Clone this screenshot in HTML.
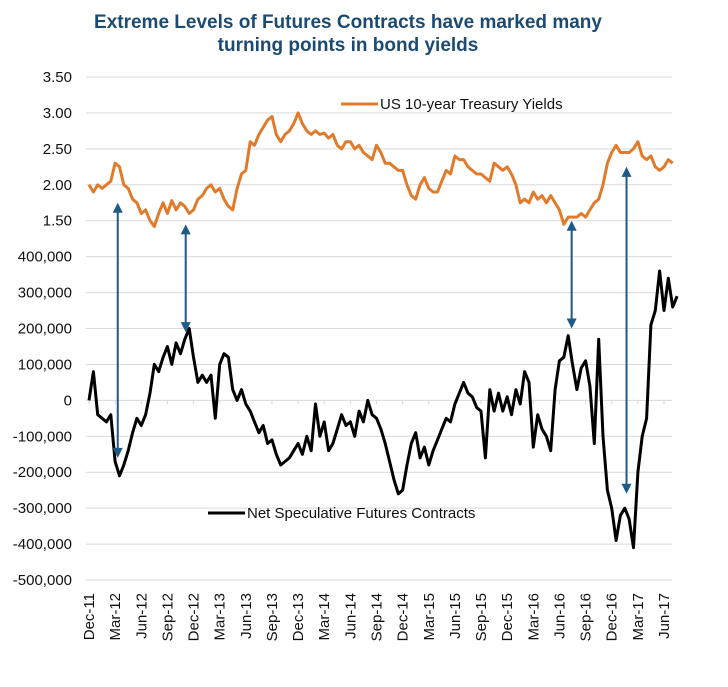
<!DOCTYPE html>
<html><head><meta charset="utf-8"><style>
body{margin:0;background:#fff;}
svg{display:block;font-family:"Liberation Sans",Arial,sans-serif;}
</style></head><body>
<svg id="chart" width="728" height="687" viewBox="0 0 728 687">
<text x="348" y="28" text-anchor="middle" font-size="19" font-weight="bold" fill="#1b4a72">Extreme Levels of Futures Contracts have marked many</text>
<text x="348" y="51" text-anchor="middle" font-size="19" font-weight="bold" fill="#1b4a72">turning points in bond yields</text>
<g id="grid"></g><g id="series"></g><g id="arrows"></g>
<g><line x1="341" y1="104" x2="378" y2="104" stroke="#e07b2c" stroke-width="3"/><text x="380" y="109" font-size="15" fill="#111">US 10-year Treasury Yields</text></g>
<g><line x1="208" y1="513" x2="245" y2="513" stroke="#000" stroke-width="3"/><text x="247" y="518" font-size="15" fill="#111">Net Speculative Futures Contracts</text></g>
</svg>
<script>
const yTickLabels=["3.50","3.00","2.50","2.00","1.50","400,000","300,000","200,000","100,000","0","-100,000","-200,000","-300,000","-400,000","-500,000"];
const xTickLabels=["Dec-11","Mar-12","Jun-12","Sep-12","Dec-12","Mar-13","Jun-13","Sep-13","Dec-13","Mar-14","Jun-14","Sep-14","Dec-14","Mar-15","Jun-15","Sep-15","Dec-15","Mar-16","Jun-16","Sep-16","Dec-16","Mar-17","Jun-17"];
const stepMonths=0.5;
const yieldValues=[2.0,1.9,2.0,1.95,2.0,2.05,2.3,2.25,2.0,1.95,1.8,1.75,1.6,1.65,1.5,1.42,1.6,1.75,1.6,1.78,1.65,1.75,1.7,1.6,1.65,1.8,1.85,1.95,2.0,1.9,1.95,1.8,1.7,1.65,1.95,2.15,2.2,2.6,2.55,2.7,2.8,2.9,2.95,2.7,2.6,2.7,2.75,2.85,3.0,2.85,2.75,2.7,2.75,2.7,2.72,2.65,2.7,2.55,2.5,2.6,2.6,2.5,2.55,2.45,2.4,2.35,2.55,2.45,2.3,2.3,2.25,2.2,2.2,2.0,1.85,1.8,2.0,2.1,1.95,1.9,1.9,2.05,2.2,2.15,2.4,2.35,2.35,2.25,2.2,2.15,2.15,2.1,2.05,2.3,2.25,2.2,2.25,2.15,2.0,1.75,1.8,1.75,1.9,1.8,1.85,1.75,1.85,1.75,1.65,1.45,1.55,1.55,1.55,1.6,1.55,1.65,1.75,1.8,2.0,2.3,2.45,2.55,2.45,2.45,2.45,2.5,2.6,2.4,2.35,2.4,2.25,2.2,2.25,2.35,2.3];
const futuresValues=[0,80,-40,-50,-60,-40,-170,-210,-180,-140,-90,-50,-70,-40,20,100,80,120,150,100,160,130,170,200,120,50,70,50,70,-50,100,130,120,30,0,30,-10,-30,-60,-90,-70,-120,-110,-150,-180,-170,-160,-140,-120,-150,-100,-140,-10,-100,-60,-140,-120,-80,-40,-70,-60,-100,-30,-60,0,-40,-50,-80,-120,-170,-220,-260,-250,-180,-120,-90,-160,-130,-180,-140,-110,-80,-50,-60,-10,20,50,20,10,-20,-30,-160,30,-30,20,-30,10,-40,30,-10,80,50,-130,-40,-80,-100,-140,30,110,120,180,100,30,90,110,40,-120,170,-100,-250,-300,-390,-320,-300,-330,-410,-200,-100,-50,210,250,360,250,340,260,290];
const arrowMonths=[3.3,11.1,55.4,61.7];
const arrowTop=[1.75,1.45,1.5,2.25];
const arrowBottom=[-160,190,200,-260];

const NS="http://www.w3.org/2000/svg";
const X0=89, XQ=26.136, YTOP=77, YSTEP=35.93;
function xm(m){return X0+m*XQ/3;}
function yYield(v){return YTOP+(3.5-v)*2*YSTEP;}
function yFut(v){return YTOP+(9-v/100)*YSTEP;}
function mk(tag,attrs,parent){const e=document.createElementNS(NS,tag);for(const k in attrs)e.setAttribute(k,attrs[k]);parent.appendChild(e);return e;}
const grid=document.getElementById('grid');
yTickLabels.forEach((t,i)=>{
  const y=YTOP+i*YSTEP;
  const l=mk('line',{x1:86,x2:672,y1:y,y2:y,stroke:'#d9d9d9','stroke-width':1},grid);
  
  
  const tx=mk('text',{x:72,y:y+5,'text-anchor':'end','font-size':15,fill:'#111'},grid);
  tx.textContent=t;
  
  
});
xTickLabels.forEach((t,i)=>{
  const x=xm(i*3);
  const tk=mk('line',{x1:x,x2:x,y1:yFut(0),y2:yFut(0)+4,stroke:'#d9d9d9'},grid);
  
  
  const tx=mk('text',{x:0,y:0,'text-anchor':'end','font-size':15,fill:'#111',transform:`translate(${x+5},593) rotate(-90)`},grid);
  tx.textContent=t;
  
  
});
const series=document.getElementById('series');
const py=yieldValues.map((v,i)=>`${i?'L':'M'}${xm(i*stepMonths).toFixed(1)},${yYield(v).toFixed(1)}`).join('');
const p1=mk('path',{d:py,fill:'none',stroke:'#e07b2c','stroke-width':3,'stroke-linejoin':'round'},series);


const pf=futuresValues.map((v,i)=>`${i?'L':'M'}${xm(i*stepMonths).toFixed(1)},${yFut(v).toFixed(1)}`).join('');
const p2=mk('path',{d:pf,fill:'none',stroke:'#000','stroke-width':3,'stroke-linejoin':'round'},series);


const arrows=document.getElementById('arrows');
arrowMonths.forEach((m,i)=>{
  const x=xm(m), y1=yYield(arrowTop[i]), y2=yFut(arrowBottom[i]);
  const g=mk('g',{},arrows);
  
  
  mk('line',{x1:x,x2:x,y1:y1+6,y2:y2-6,stroke:'#1d5a85','stroke-width':2},g);
  mk('polygon',{points:`${x},${y1} ${x-5},${y1+10} ${x+5},${y1+10}`,fill:'#1d5a85'},g);
  mk('polygon',{points:`${x},${y2} ${x-5},${y2-10} ${x+5},${y2-10}`,fill:'#1d5a85'},g);
});
</script>
</body></html>
